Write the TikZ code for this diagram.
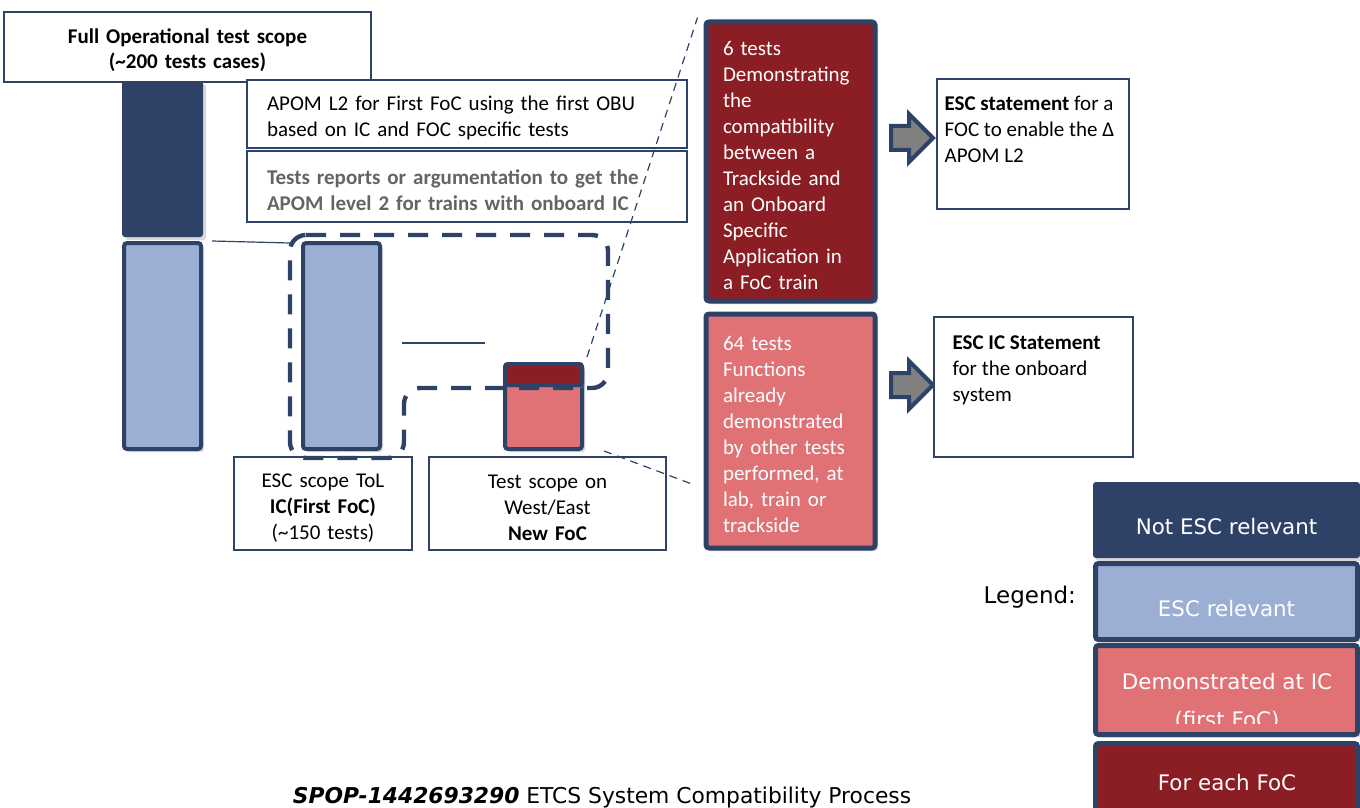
\documentclass[tikz,border=0pt]{standalone}
\usepackage{fontspec}
\setmainfont{Carlito}
\newfontfamily\verdana{DejaVu Sans}
\usetikzlibrary{fit,calc,shapes.arrows,shadows}

\definecolor{navy}{RGB}{46,66,104}
\definecolor{paleblue}{RGB}{155,175,213}
\definecolor{wine}{RGB}{139,30,36}
\definecolor{salmon}{RGB}{224,114,118}
\definecolor{txtgray}{RGB}{100,100,100}
\definecolor{arrowgray}{RGB}{128,128,128}

\tikzset{
	box/.style={draw=navy, line width=0.75pt, fill=white, inner sep=0pt},
	lowtext/.style={execute at begin node={\rule{0pt}{11pt}}},
	bar/.style={draw=navy, line width=2pt, rounded corners=1.5pt, inner sep=0pt,
		drop shadow={opacity=0.3, shadow xshift=1.5pt, shadow yshift=-1.5pt}},
	redbox/.style={bar, lowtext, line width=2.5pt, text=white, align=left, text width=67.5pt, minimum width=84.5pt},
	legbox/.style={bar, line width=2.5pt},
	legtext/.style={text=white, font=\verdana\fontsize{10.7}{19}\selectfont},
	link/.style={draw=navy, line width=0.6pt},
	zoomline/.style={draw=navy, line width=0.6pt, dash pattern=on 4pt off 3pt},
	scopeline/.style={draw=navy, line width=2.2pt, dash pattern=on 10pt off 7pt, rounded corners=8pt},
	blockarrow/.style={single arrow, draw=navy, fill=arrowgray, line width=2pt,
		minimum height=21pt, inner sep=5pt, single arrow head extend=6pt}
}

\begin{document}
\begin{tikzpicture}[x=0.5pt, y=-0.5pt, every node/.style={font=\fontsize{10.5}{13}\selectfont}]
	\useasboundingbox (0,0) rectangle (1360,808);
	
	% columns
	\node[bar, draw=none, fill=navy, fit={(122,81)(203,237)}] (fullcol) {};
	\node[bar, fill=paleblue, fit={(124,243)(201,449)}] (lcol) {};
	\node[bar, fill=paleblue, fit={(303,243)(380,449)}] (mcol) {};
	\node[bar, fill=salmon, fit={(505,364)(582,449)}] (newfoc) {};
	\node[bar, fill=wine, fit={(505,364)(582,385)}] (newfoctop) {};
	
	% text boxes
	\node[box, lowtext, minimum width=183.5pt, minimum height=35pt, text width=183.5pt, align=center, font=\fontsize{10.5}{12.5}\selectfont\bfseries] (title) at (187.5,47)
		{Full Operational test scope\\(\textasciitilde200 tests cases)};
	\node[box, lowtext, minimum width=220pt, minimum height=34pt, text width=200pt, align=left] (apom) at (467,114)
		{APOM L2 for First FoC using the first OBU\\based on IC and FOC specific tests};
	\node[box, lowtext, minimum width=220pt, minimum height=35.5pt, text width=200pt, align=left, text=txtgray, font=\fontsize{10.5}{13}\selectfont\bfseries] (reports) at (467,186.5)
		{Tests reports or argumentation to get the\\APOM level 2 for trains with onboard IC};
	\node[box, lowtext, minimum width=89pt, minimum height=46.5pt, text width=89pt, align=center] (tolscope) at (323,503.5)
		{ESC scope ToL\\\textbf{IC(First FoC)}\\(\textasciitilde150 tests)};
	\node[box, lowtext, minimum width=118.5pt, minimum height=46.5pt, text width=118.5pt, align=center] (westeast) at (547.5,503.5)
		{Test scope on\\West/East\\\textbf{New FoC}};
	
	% enclosure of the ESC scope
	\draw[scopeline] (290,235) -- (608,235) -- (608,388) -- (404,388) -- (404,458) -- (290,458) -- cycle;
	
	% detail boxes
	\node[redbox, fill=wine, minimum height=139.5pt] (focbox) at (790.5,161.5)
		{6 tests\\Demonstrating\\the\\compatibility\\between a\\Trackside and\\an Onboard\\Specific\\Application in\\a FoC train};
	\node[redbox, fill=salmon, minimum height=117pt] (icbox) at (790.5,431)
		{64 tests\\Functions\\already\\demonstrated\\by other tests\\performed, at\\lab, train or\\trackside};
	
	\node[blockarrow] (tofoc) at (906,138) {};
	\node[blockarrow] (toic) at (906,385) {};
	
	\node[box, minimum width=96pt, minimum height=65pt] (focstmt) at (1033,144) {};
	\node[anchor=north west, align=left, inner sep=0pt] (focstmttext) at ([shift={(8,17)}]focstmt.north west)
		{\textbf{ESC statement} for a\\FOC to enable the Δ\\APOM L2};
	\node[box, minimum width=99.5pt, minimum height=70pt] (icstmt) at (1033.5,387) {};
	\node[anchor=north west, align=left, inner sep=0pt] (icstmttext) at ([shift={(19,19)}]icstmt.north west)
		{\textbf{ESC IC Statement}\\for the onboard\\system};
	
	% connectors
	\coordinate (scopeleft) at (290,243);
	\coordinate (gapend) at (485,343);
	\draw[link] ([xshift=4.5pt]lcol.north east) -- (scopeleft);
	\draw[link] ($(gapend -| mcol.east)+(20,0)$) -- (gapend);
	\draw[zoomline] ([shift={(3,-5)}]newfoc.north east) -- ([shift={(-6,-2)}]focbox.north west);
	\draw[zoomline] ([shift={(20,0)}]newfoc.south east) -- ([shift={(-9,54)}]icbox.west);
	
	% legend
	\node[bar, draw=none, fill=navy, fit={(1093,482)(1360,558)}] (lnotesc) {};
	\node[legtext] (lnotesctext) at ([yshift=-3.5pt]lnotesc.center) {Not ESC relevant};
	\node[legbox, fill=paleblue, fit={(1095.5,563.5)(1357.5,639.5)}] (lesc) {};
	\node[legtext] (lesctext) at ([yshift=-3.5pt]lesc.center) {ESC relevant};
	\node[legbox, fill=salmon, fit={(1095.5,645.5)(1357.5,734.5)}] (ldemo) {};
	\begin{scope}
		\clip (1093,643) rectangle (1360,723);
		\node[legtext, align=center] (ldemotext) at (1227,702) {Demonstrated at IC\\(first FoC)};
	\end{scope}
	\node[legbox, fill=wine, fit={(1095.5,743.5)(1357.5,822)}] (leach) {};
	\node[legtext] (leachtext) at (1227,783) {For each FoC};
	\node[anchor=east, font=\verdana\fontsize{11.5}{14}\selectfont] (legendtitle) at (1083,597) {Legend:};
	
	\node[font=\verdana\fontsize{10.9}{13}\selectfont] (caption) at (602,797)
		{\textbf{\textit{SPOP-1442693290}} ETCS System Compatibility Process};
	
\end{tikzpicture}
\end{document}
